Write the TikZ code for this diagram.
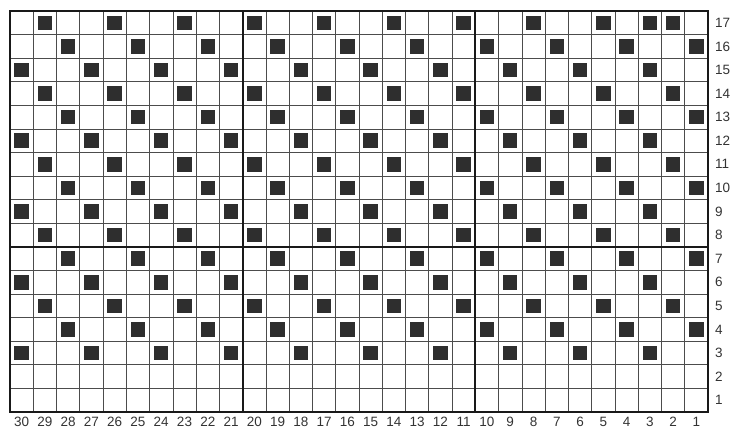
\documentclass[tikz,border=0pt]{standalone}
\usepackage{fontspec}
\setmainfont{Liberation Sans}
\begin{document}
\begin{tikzpicture}[x=1pt,y=-1pt,
  thinline/.style={line width=0.7pt,draw=black!70},
  thickline/.style={line width=1.9pt,draw=black!90},
  sq/.style={draw=none,fill=black!82,minimum size=14.5pt,inner sep=0pt,outer sep=0pt},
  lab/.style={font=\fontsize{13.5}{14}\selectfont,text=black!80,inner sep=0pt}]
\useasboundingbox (0,0) rectangle (733,429);
\def\XA{10}\def\XB{708}\def\YA{11}\def\YB{412}
\pgfmathsetmacro\cw{(\XB-\XA)/30}
\pgfmathsetmacro\rh{(\YB-\YA)/17}
% thin grid
\foreach \k in {1,...,29}{
  \draw[thinline] ({\XA+\k*\cw},\YA) -- ({\XA+\k*\cw},\YB);
}
\foreach \k in {1,...,16}{
  \draw[thinline] (\XA,{\YA+\k*\rh}) -- (\XB,{\YA+\k*\rh});
}
% thick dividers
\draw[thickline] ({\XA+10*\cw},\YA) -- ({\XA+10*\cw},\YB);
\draw[thickline] ({\XA+20*\cw},\YA) -- ({\XA+20*\cw},\YB);
\draw[thickline] (\XA,{\YB-7*\rh}) -- (\XB,{\YB-7*\rh});
\draw[line width=2pt,draw=black!90] (\XA,\YA) rectangle (\XB,\YB);
% filled squares
\foreach \r in {3,...,17}{
  \foreach \i in {1,...,30}{
    \pgfmathtruncatemacro\m{mod(\i+\r,3)}
    \ifnum\m=1
      \node[sq] (s-\i-\r) at ({\XA+(\i-0.5)*\cw},{\YB-(\r-0.5)*\rh}) {};
    \fi
  }
}
\node[sq] (s-28-17) at ({\XA+27.5*\cw},{\YB-16.5*\rh}) {};
% column labels
\foreach \i in {1,...,30}{
  \pgfmathtruncatemacro\n{31-\i}
  \node[lab] (c\n) at ({\XA+(\i-0.5)*\cw},422) {\n};
}
% row labels
\foreach \r in {1,...,17}{
  \node[lab,anchor=west] (r\r) at (715,{\YB-(\r-0.5)*\rh}) {\r};
}
\end{tikzpicture}
\end{document}
